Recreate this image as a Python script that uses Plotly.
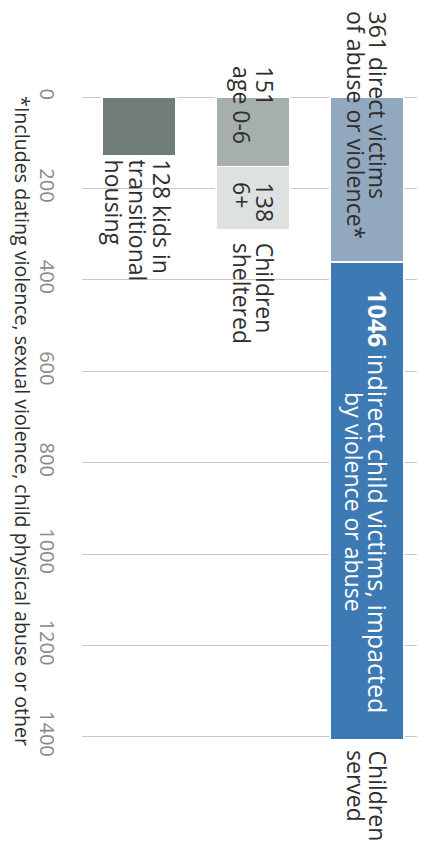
import plotly.graph_objects as go

# ---- data ----
categories = ["Transitional", "Sheltered", "Served"]
base_values = [128, 151, 361]          # first segment of each bar
top_categories = ["Sheltered", "Served"]
top_values = [138, 1046]               # second (stacked) segment
tick_values = [0, 200, 400, 600, 800, 1000, 1200, 1400]
tick_labels = ["0", "200", "400", "600", "800", "1000", "1200", "1400"]

base_colors = ["#6f7c77", "#a5afab", "#91a8be"]
top_colors = ["#dde2e0", "#3d79b2"]

FONT = "Open Sans"
TXT = "#2e2e2e"
FS = 23

fig = go.Figure()
fig.add_trace(go.Bar(x=categories, y=base_values, marker=dict(color=base_colors, line=dict(color="white", width=1.2)),
                     hoverinfo="skip", showlegend=False))
fig.add_trace(go.Bar(x=top_categories, y=top_values, marker=dict(color=top_colors, line=dict(color="white", width=1.2)),
                     hoverinfo="skip", showlegend=False))

ann = []
def line(cat, text, y, xshift, yshift, anchor="top", color=TXT, size=FS):
    ann.append(dict(x=cat, y=y, xref="x", yref="y", text=text, showarrow=False, textangle=90,
                    xanchor="center", yanchor=anchor, xshift=xshift, yshift=yshift,
                    font=dict(family=FONT, size=size, color=color)))

tot_served = base_values[2] + top_values[1]
tot_shelter = base_values[1] + top_values[0]
mid_served = base_values[2] + top_values[1] / 2

# Served column
line("Served", f"{base_values[2]} direct victims", 0, 11, 88)
line("Served", "of abuse or violence*", 0, -11, 88)
line("Served", f"<b>{top_values[1]}</b> indirect child victims, impacted", mid_served, 11, 0, anchor="middle", color="white", size=25)
line("Served", "by violence or abuse", mid_served, -13, 0, anchor="middle", color="white")
line("Served", "Children", tot_served, 11, -8)
line("Served", "served", tot_served, -11, -8)

# Sheltered column
line("Sheltered", f"{base_values[1]}", 0, 12, 33)
line("Sheltered", "age 0-6", 0, -11, 33)
line("Sheltered", f"{top_values[0]}", base_values[1], 12, -14)
line("Sheltered", "6+", base_values[1], -11, -14)
line("Sheltered", "Children", tot_shelter, 12, -11)
line("Sheltered", "sheltered", tot_shelter, -11, -11)

# Transitional column
line("Transitional", f"{base_values[0]} kids in", base_values[0], 23, -2)
line("Transitional", "transitional", base_values[0], -1, -2)
line("Transitional", "housing", base_values[0], -25, -2)

# footnote
ann.append(dict(x=0, y=0, xref="paper", yref="y", text="*Includes dating violence, sexual violence, child physical abuse or other",
                showarrow=False, textangle=90, xanchor="center", yanchor="top", xshift=-59, yshift=3,
                font=dict(family=FONT, size=19.6, color=TXT)))

# page body adds an 8px offset; figure is sized so plot area lands at the reference position
fig.update_layout(
    width=417, height=834,
    margin=dict(l=74, r=1, t=0, b=0, autoexpand=False),
    barmode="stack", bargap=0.35,
    plot_bgcolor="white", paper_bgcolor="white",
    annotations=ann,
    xaxis=dict(categoryorder="array", categoryarray=categories, showticklabels=False, automargin=False,
               showgrid=False, zeroline=False, showline=False, ticks=""),
    yaxis=dict(range=[1630, -195], tickvals=tick_values, ticktext=tick_labels, tickangle=90, automargin=False,
               showgrid=True, gridcolor="#c8c8c8", gridwidth=1, zeroline=False, showline=False,
               ticks="", ticklabelstandoff=21,
               tickfont=dict(family=FONT, size=20, color="#8a8a8a")),
)

fig.write_html("out.html")
